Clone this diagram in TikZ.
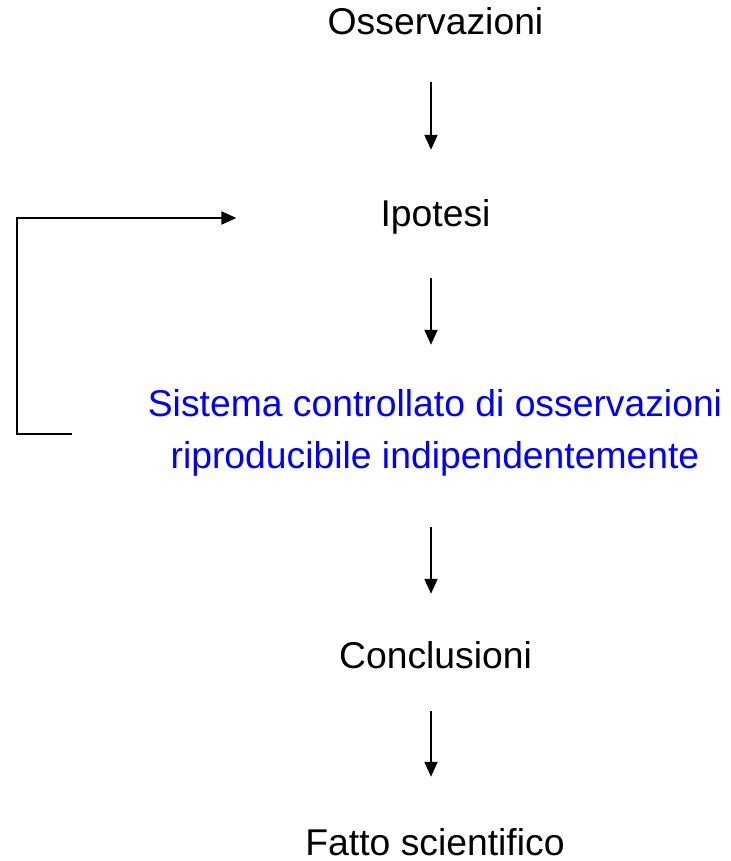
\documentclass[tikz,border=0pt]{standalone}
\usepackage{fontspec}
\setmainfont{Liberation Sans}
\usetikzlibrary{arrows.meta}
\definecolor{txtblue}{RGB}{0,0,255}
\begin{document}
\begin{tikzpicture}[x=1pt,y=-1pt,
  lbl/.style={inner sep=0pt,anchor=base,text height=27pt,text depth=8pt,
    font=\fontsize{37.3}{44}\selectfont},
  arr/.style={line width=2pt,-{Triangle[length=15pt,width=13pt]}}]
\useasboundingbox (0,0) rectangle (730,861);
\node[lbl] (oss) at (435.5,35) {Osservazioni};
\node[lbl] (ipo) at (435.5,226) {Ipotesi};
\node[lbl,text=txtblue] (sis1) at (435,416) {Sistema controllato di osservazioni};
\node[lbl,text=txtblue] (sis2) at (435,468) {riproducibile indipendentemente};
\node[lbl] (con) at (435.5,668) {Conclusioni};
\node[lbl,text depth=0pt] (fat) at (435,855) {Fatto scientifico};
\draw[arr,shorten <=39pt,shorten >=49pt] ([xshift=-4.5pt]oss.south) -- ([xshift=-4.5pt]ipo.north);
\draw[arr,shorten <=44pt,shorten >=44pt] ([xshift=-4.5pt]ipo.south) -- ([xshift=-4pt]sis1.north);
\draw[arr,shorten <=51pt,shorten >=47pt] ([xshift=-4pt]sis2.south) -- ([xshift=-4.5pt]con.north);
\draw[arr,shorten <=35pt,shorten >=51pt] ([xshift=-4.5pt]con.south) -- ([xshift=-4pt]fat.north);
\coordinate (fb) at (72,434);
\draw[arr] (fb) -- (17,434) |- ([xshift=-144pt,yshift=-1.5pt]ipo.west);
\end{tikzpicture}
\end{document}
